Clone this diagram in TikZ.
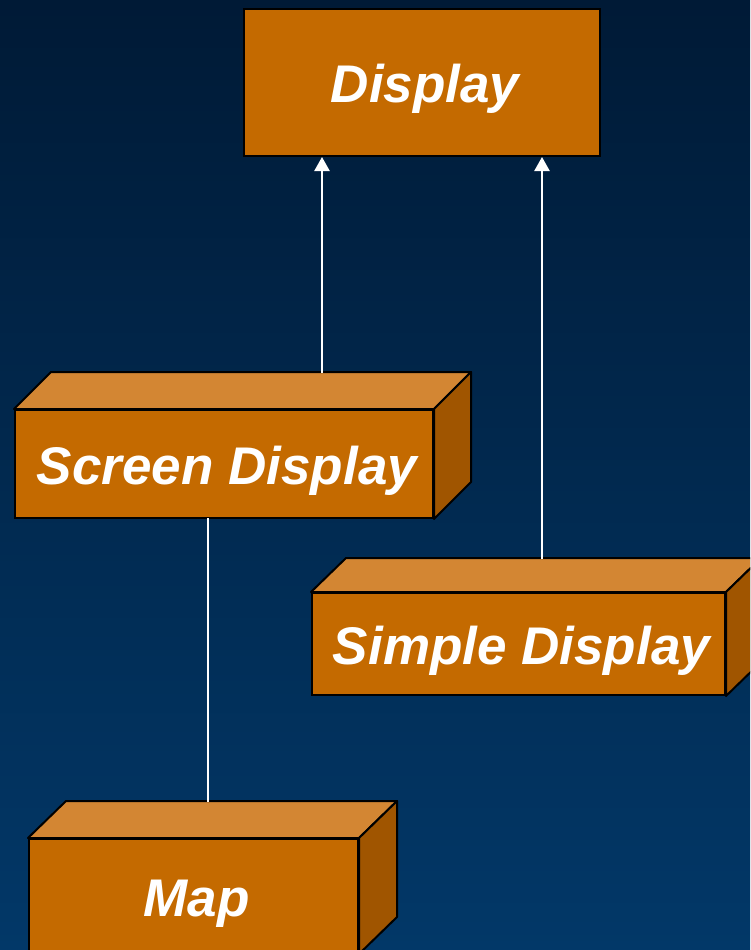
\documentclass[tikz,border=0pt]{standalone}
\usepackage{fontspec}
\setmainfont{Liberation Sans}
\usetikzlibrary{arrows.meta,calc}
\definecolor{bgtop}{RGB}{0,26,54}
\definecolor{bgbot}{RGB}{2,56,104}
\definecolor{front}{RGB}{196,106,0}
\definecolor{topface}{RGB}{211,134,51}
\definecolor{sideface}{RGB}{160,85,0}
\tikzset{
  facebox/.style={draw=black, line width=2pt, fill=front, text=white, inner sep=0pt,
    text height=40pt, text depth=0pt, execute at begin node={\kern6pt},
    font=\fontsize{53}{60}\selectfont\bfseries\itshape},
  topf/.style={draw=black, line width=2pt, fill=topface, line join=round},
  sidef/.style={draw=black, line width=2pt, fill=sideface, line join=round},
  link/.style={draw=white, line width=2.4pt},
  arrowlink/.style={link, -{Triangle[width=15pt,length=14pt]}}
}
\begin{document}
\begin{tikzpicture}[x=1pt,y=-1pt]
\useasboundingbox (0,0) rectangle (750,950);
\clip (0,0) rectangle (750,950);
\fill[top color=bgtop, bottom color=bgbot] (0,0) rectangle (750,950);

% Display
\node[facebox, minimum width=356pt, minimum height=147pt] (disp) at (422,82.5) {Display};

% Screen Display (front 15..433 x 410..518, depth 37)
\node[facebox, minimum width=418pt, minimum height=108pt] (sd) at (224,464) {Screen Display};
\draw[topf] (sd.north west) -- ++(37,-37) -- ($(sd.north east)+(37,-37)$) -- (sd.north east) -- cycle;
\draw[sidef] (sd.north east) -- ++(37,-37) -- ($(sd.south east)+(37,-37)$) -- (sd.south east) -- cycle;

% Simple Display (front 312..725 x 593..695, depth 35)
\node[facebox, minimum width=413pt, minimum height=102pt] (simp) at (518.5,644) {Simple Display};
\draw[topf] (simp.north west) -- ++(35,-34) -- ($(simp.north east)+(35,-34)$) -- (simp.north east) -- cycle;
\draw[sidef] (simp.north east) -- ++(35,-34) -- ($(simp.south east)+(35,-34)$) -- (simp.south east) -- cycle;

% Map (front 29..358 x 839..953, depth 38)
\node[facebox, minimum width=329pt, minimum height=114pt] (map) at (193.5,896) {Map};
\draw[topf] (map.north west) -- ++(38,-37) -- ($(map.north east)+(38,-37)$) -- (map.north east) -- cycle;
\draw[sidef] (map.north east) -- ++(38,-37) -- ($(map.south east)+(38,-37)$) -- (map.south east) -- cycle;

% connectors
\coordinate (sdtop) at (322,373);
\coordinate (simptop) at (542,559);
\coordinate (sdbot) at (208,518);
\coordinate (maptop) at (208,802);
\draw[arrowlink] (sdtop) -- (sdtop |- disp.south);
\draw[arrowlink] (simptop) -- (simptop |- disp.south);
\draw[link] (sdbot) -- (maptop);
\end{tikzpicture}
\end{document}
